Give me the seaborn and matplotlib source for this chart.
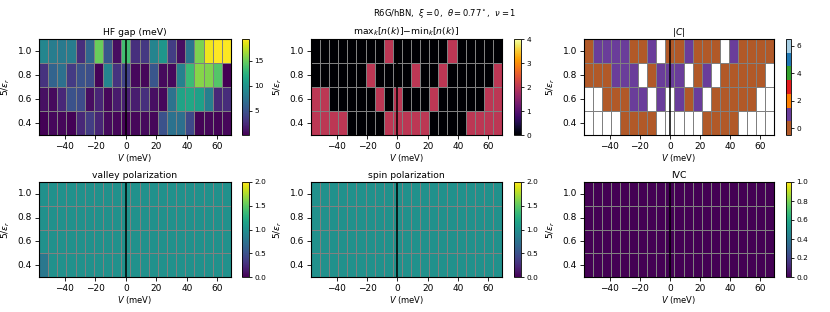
import numpy as np
import pandas as pd
import seaborn as sns
import matplotlib.pyplot as plt
from matplotlib.colors import ListedColormap

plt.rcParams['font.family'] = ['DejaVu Sans']
plt.rcParams['font.size'] = 6.5
plt.rcParams['mathtext.fontset'] = 'dejavusans'

# sweep grid: gate potential (meV) and 5/eps_r (top row first)
V = [-54, -48, -42, -36, -30, -24, -18, -12, -6, 0, 6, 12, 18, 24, 30, 36, 42, 48, 54, 60, 66]
inv_eps = [1.0, 0.8, 0.6, 0.4]
v_ticks = [-40, -20, 0, 20, 40, 60]

nan = np.nan

hf_gap = [
    [9.0, 8.2, 8.0, 8.2, 2.7, 6.5, 14.9, 5.3, 0.8, 13.5, 2.8, 3.3, 8.8, 10.2, 3.6, 0.9, 7.6, 15.5, 18.9, 19.3, 19.2],
    [3.0, 6.3, 7.2, 3.5, 5.0, 4.8, 0.4, 8.8, 3.0, 4.0, 0.6, 0.5, 5.3, 0.7, 0.6, 8.7, 13.2, 15.8, 15.6, 14.2, 0.2],
    [1.0, 0.7, 2.3, 5.0, 4.6, 0.9, 2.2, 0.5, 1.6, 1.9, 1.7, 2.8, 1.0, 0.6, 7.5, 11.3, 11.6, 11.0, 8.4, 2.3, 2.6],
    [0.3, 0.6, 0.5, 0.3, 2.3, 3.6, 2.2, 0.7, 0.5, 0.4, 0.5, 0.7, 0.5, 5.0, 7.4, 7.2, 4.4, 0.4, 0.5, 0.4, 0.5],
]

occ_spread = [
    [0, 0, 0, 0, 0, 0, 0, 0, 2, 0, 0, 0, 0, 0, 0, 2, 0, 0, 0, 0, 0],
    [0, 0, 0, 0, 0, 0, 2, 0, 0, 0, 0, 2, 0, 0, 2, 0, 0, 0, 0, 0, 2],
    [2, 2, 0, 0, 0, 0, 0, 2, 0, 2, 0, 0, 0, 2, 0, 0, 0, 0, 0, 2, 2],
    [2, 2, 2, 2, 0, 0, 0, 0, 2, 2, 2, 2, 2, 0, 0, 0, 0, 2, 2, 2, 2],
]

chern = [
    [0, 1, 1, 1, 1, 0, 0, 1, nan, 0, 0, 1, 0, 0, 0, nan, 1, 0, 0, 0, 0],
    [0, 0, 0, 1, 1, 1, nan, 0, 1, 1, 1, nan, 0, 1, nan, 0, 0, 0, 0, 0, nan],
    [nan, nan, 0, 0, 0, 1, 1, nan, 1, nan, 1, 0, 1, nan, 0, 0, 0, 0, 0, nan, nan],
    [nan, nan, nan, nan, 0, 0, 0, 0, nan, nan, nan, nan, nan, 0, 0, 0, 0, nan, nan, nan, nan],
]

valley_pol = [
    [1, 1, 1, 1, 1, 1, 1, 1, 1, 1, 1, 1, 1, 1, 1, 1, 1, 1, 1, 1, 1],
    [1, 1, 1, 1, 1, 1, 1, 1, 1, 1, 1, 1, 1, 1, 1, 1, 1, 1, 1, 1, 1],
    [1, 1, 1, 1, 1, 1, 1, 1, 1, 1, 1, 1, 1, 1, 1, 1, 1, 1, 1, 1, 1],
    [0.8, 1, 1, 1, 1, 1, 1, 1, 1, 1, 1, 1, 1, 1, 1, 1, 1, 1, 1, 1, 1],
]

spin_pol = [
    [1, 1, 1, 1, 1, 1, 1, 1, 1, 1, 1, 1, 1, 1, 1, 1, 1, 1, 1, 1, 1],
    [1, 1, 1, 1, 1, 1, 1, 1, 1, 1, 1, 1, 1, 1, 1, 1, 1, 1, 1, 1, 1],
    [1, 1, 1, 1, 1, 1, 1, 1, 1, 1, 1, 1, 1, 1, 1, 1, 1, 1, 1, 1, 1],
    [1, 1, 1, 1, 1, 1, 1, 1, 1, 1, 1, 1, 1, 1, 1, 1, 1, 1, 1, 1, 1],
]

ivc = [
    [0, 0, 0, 0, 0, 0, 0, 0, 0, 0, 0, 0, 0, 0, 0, 0, 0, 0, 0, 0, 0],
    [0, 0, 0, 0, 0, 0, 0, 0, 0, 0, 0, 0, 0, 0, 0, 0, 0, 0, 0, 0, 0],
    [0, 0, 0, 0, 0, 0, 0, 0, 0, 0, 0, 0, 0, 0, 0, 0, 0, 0, 0, 0, 0],
    [0, 0, 0, 0, 0, 0, 0, 0, 0, 0, 0, 0, 0, 0, 0, 0, 0, 0, 0, 0, 0],
]

chern_cmap = ListedColormap(['#b15928', '#6a3d9a', '#ff7f00', '#e31a1c', '#33a02c', '#1f78b4', '#a6cee3'])

W, H = 830, 312
fig = plt.figure(figsize=(W / 100, H / 100), dpi=100)

# pixel boxes (left, right, cbar left, cbar right) and (top, bottom)
col_x = [(39, 231, 242, 249), (311, 502, 514, 521), (584, 774, 786, 791)]
row_y = [(39, 135), (182, 277)]


def box(x0, y0, x1, y1):
    return fig.add_axes([x0 / W, 1 - y1 / H, (x1 - x0) / W, (y1 - y0) / H])


def panel(r, c, data, title, cmap, vmin=None, vmax=None, cticks=None):
    ax = box(col_x[c][0], row_y[r][0], col_x[c][1], row_y[r][1])
    cax = box(col_x[c][2], row_y[r][0], col_x[c][3], row_y[r][1])
    df = pd.DataFrame(data, index=inv_eps, columns=V)
    sns.heatmap(df, ax=ax, cbar_ax=cax, cmap=cmap, vmin=vmin, vmax=vmax,
                linewidths=0.7, linecolor='#808080',
                xticklabels=False, yticklabels=[f'{e:.1f}' for e in inv_eps])
    # map V values to heatmap column coordinates
    dv = V[1] - V[0]
    x0 = V[0] - dv / 2
    ax.set_xticks([(t - x0) / dv for t in v_ticks])
    ax.set_xticklabels([str(t).replace('-', '\u2212') for t in v_ticks], rotation=0)
    ax.set_yticklabels([f'{e:.1f}' for e in inv_eps], rotation=0)
    ax.axvline((0 - x0) / dv, color='black', lw=1.1, zorder=5)
    for s in ax.spines.values():
        s.set_visible(True)
        s.set_linewidth(0.8)
    ax.tick_params(length=3, width=0.6, labelsize=6.5, pad=2)
    ax.set_title(title, fontsize=6.7, pad=3)
    ax.set_xlabel('$V$ (meV)', fontsize=6, labelpad=1)
    ax.set_ylabel(r'$5/\epsilon_r$', fontsize=6.5, labelpad=4)
    cb = ax.collections[0].colorbar
    cb.outline.set_linewidth(0.6)
    cb.outline.set_visible(True)
    if cticks is not None:
        cb.set_ticks(cticks)
    cax.tick_params(labelsize=5.3, length=2.5, width=0.6, pad=1.5)
    return ax


panel(0, 0, hf_gap, 'HF gap (meV)', 'viridis')
panel(0, 1, occ_spread, r'max$_k[n(k)]$$-$min$_k[n(k)]$', 'inferno', 0, 4)
panel(0, 2, chern, '$|C|$', chern_cmap, -0.5, 6.5, [0, 2, 4, 6])
panel(1, 0, valley_pol, 'valley polarization', 'viridis', 0, 2)
panel(1, 1, spin_pol, 'spin polarization', 'viridis', 0, 2)
panel(1, 2, ivc, 'IVC', 'viridis', 0, 1)

fig.text(445 / W, 1 - 13 / H,
         r'R6G/hBN,  $\xi=0$,  $\theta=0.77^\circ$,  $\nu=1$',
         ha='center', va='center', fontsize=6)

fig.savefig('out.png', dpi=100)
